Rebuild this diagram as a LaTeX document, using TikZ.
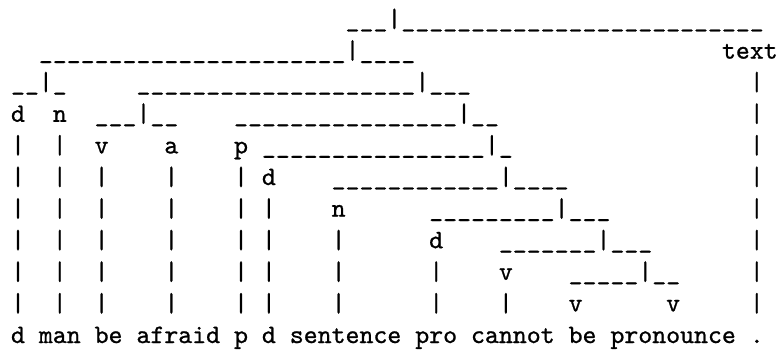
\documentclass[tikz,border=0pt]{standalone}
\usepackage{fontspec}
\newfontfamily\mono[FakeBold=0.9]{lmmono10-regular.otf}
\ExplSyntaxOn
\cs_new:Npn \myrep #1 #2 { \prg_replicate:nn {#1} {#2} }
\ExplSyntaxOff
\newcommand\U[1]{\myrep{#1}{\_}}
\newcommand\tokat[4]{\node[tok] (#1) at ({11.03+13.94*(#2)},{-27-31.6*(#3)}) {#4};}
\begin{document}
\begin{tikzpicture}[x=1pt,y=1pt,
  tok/.style={anchor=base west,inner sep=0pt,outer sep=0pt,font=\mono\fontsize{26.55}{31.6}\selectfont}]
\useasboundingbox (0,0) rectangle (780,-351);
% row 0
\tokat{r0}{24}{0}{\U{3}|\U{26}}
% row 1
\tokat{r1}{2}{1}{\U{22}|\U{4}}
\tokat{text}{51}{1}{text}
% row 2
\tokat{r2a}{0}{2}{\U{2}|\U{1}}
\tokat{r2b}{9}{2}{\U{20}|\U{3}}
% row 3
\tokat{d0}{0}{3}{d}
\tokat{n0}{3}{3}{n}
\tokat{r3a}{6}{3}{\U{3}|\U{2}}
\tokat{r3b}{16}{3}{\U{16}|\U{2}}
% row 4
\tokat{v0}{6}{4}{v}
\tokat{a0}{11}{4}{a}
\tokat{p0}{16}{4}{p}
\tokat{r4}{18}{4}{\U{16}|\U{1}}
% row 5
\tokat{d1}{18}{5}{d}
\tokat{r5}{23}{5}{\U{12}|\U{4}}
% row 6
\tokat{n1}{23}{6}{n}
\tokat{r6}{30}{6}{\U{9}|\U{3}}
% row 7
\tokat{d2}{30}{7}{d}
\tokat{r7}{35}{7}{\U{7}|\U{3}}
% row 8
\tokat{v1}{35}{8}{v}
\tokat{r8}{40}{8}{\U{5}|\U{2}}
% row 9
\tokat{v2}{40}{9}{v}
\tokat{v3}{47}{9}{v}
% vertical bars
\foreach \r/\cols in {4/{0,3},5/{0,3,6,11,16},6/{0,3,6,11,16,18},7/{0,3,6,11,16,18,23},8/{0,3,6,11,16,18,23,30},9/{0,3,6,11,16,18,23,30,35}}{
  \foreach \c in \cols {\tokat{bar-\r-\c}{\c}{\r}{|}}
}
\foreach \r in {2,...,9}{\tokat{tbar-\r}{53}{\r}{|}}
% row 10: words
\tokat{w1}{0}{10}{d}
\tokat{w2}{2}{10}{man}
\tokat{w3}{6}{10}{be}
\tokat{w4}{9}{10}{afraid}
\tokat{w5}{16}{10}{p}
\tokat{w6}{18}{10}{d}
\tokat{w7}{20}{10}{sentence}
\tokat{w8}{29}{10}{pro}
\tokat{w9}{33}{10}{cannot}
\tokat{w10}{40}{10}{be}
\tokat{w11}{43}{10}{pronounce}
\tokat{w12}{53}{10}{.}
\end{tikzpicture}
\end{document}
